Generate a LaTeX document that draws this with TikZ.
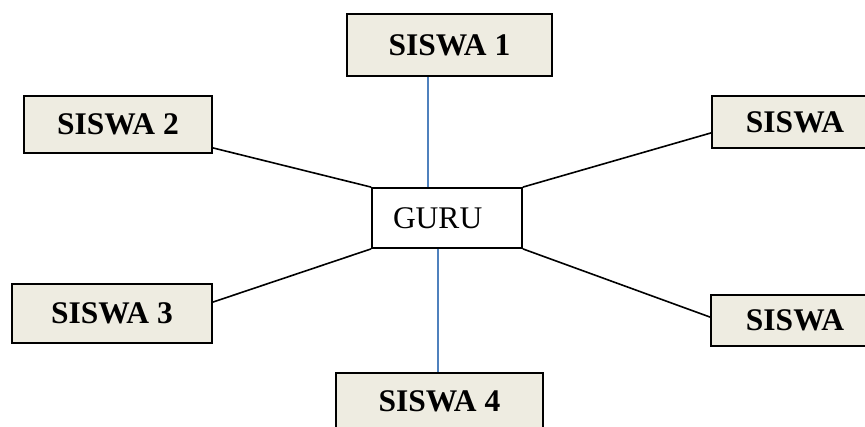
\documentclass[tikz,border=0pt]{standalone}
\usepackage{fontspec}
\setmainfont{Liberation Serif}
\usetikzlibrary{calc}
\definecolor{boxfill}{HTML}{EEECE1}
\definecolor{linkblue}{HTML}{4F81BD}
\tikzset{
  siswa/.style={draw=black, line width=1.8pt, fill=boxfill, inner sep=0pt,
    font=\fontsize{31.5}{36}\selectfont\bfseries},
  guru/.style={draw=black, line width=1.8pt, fill=white, inner sep=0pt,
    font=\fontsize{31.5}{36}\selectfont},
  blackline/.style={draw=black, line width=1.6pt},
  blueline/.style={draw=linkblue, line width=1.1pt}
}
\begin{document}
\begin{tikzpicture}[x=1pt,y=-1pt]
\useasboundingbox (0,0) rectangle (865,427);
\clip (0,0) rectangle (865,427);
\fill[white] (0,0) rectangle (865,427);
\node[siswa, minimum width=205pt, minimum height=62pt] (s1) at (449.5,45) {SISWA 1};
\node[siswa, minimum width=188pt, minimum height=57pt] (s2) at (118,124.5) {SISWA 2};
\node[siswa, minimum width=200pt, minimum height=59pt] (s3) at (112,313.5) {SISWA 3};
\node[siswa, minimum width=166pt, minimum height=52pt] (tr) at (795,122) {SISWA};
\node[siswa, minimum width=168pt, minimum height=51pt] (br) at (795,320.5) {SISWA};
\node[siswa, minimum width=207pt, minimum height=56pt] (s4) at (439.5,401) {SISWA 4};
\node[guru, minimum width=150pt, minimum height=60pt] (g) at (447,218) {\makebox[150pt][l]{\hspace{21pt}GURU}};
\draw[blackline] ([yshift=6pt]s2.south east) -- (g.north west);
\draw[blackline] ([yshift=-19pt]s3.north east) -- (g.south west);
\draw[blackline] ([yshift=16pt]tr.south west) -- (g.north east);
\draw[blackline] ([yshift=-23pt]br.north west) -- (g.south east);
\coordinate (t1) at ([xshift=-19pt]g.north);
\coordinate (t2) at ([xshift=-9pt]g.south);
\draw[blueline] (t1) -- (t1 |- s1.south);
\draw[blueline] (t2) -- (t2 |- s4.north);
\end{tikzpicture}
\end{document}
